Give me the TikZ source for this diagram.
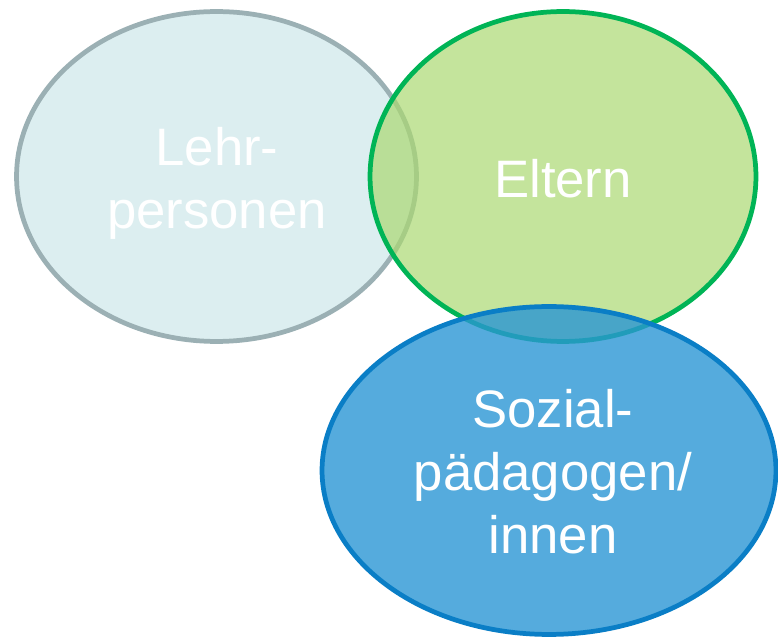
\documentclass[tikz,border=0pt]{standalone}
\usepackage{fontspec}
\setmainfont{Liberation Sans}
\usetikzlibrary{shapes.geometric}

\definecolor{lehrfill}{HTML}{DCEEF0}
\definecolor{lehrline}{HTML}{9BB0B4}
\definecolor{elternfill}{HTML}{ABD872}
\definecolor{elternline}{HTML}{00B456}
\definecolor{sozialfill}{HTML}{2A96D4}
\definecolor{sozialline}{HTML}{0A7EC6}

\tikzset{
  kreis/.style={ellipse, inner sep=0pt, line width=2.7pt},
  schrift/.style={text=white, align=center, font=\fontsize{30}{35.8}\selectfont}
}

\begin{document}
\begin{tikzpicture}[x=0.02cm, y=-0.02cm]
            \useasboundingbox (0,0) rectangle (778,638);
            \node[kreis, draw=lehrline, fill=lehrfill, minimum width=8cm, minimum height=6.6cm] at (216.5,176.5) (lehr) {};
            \node[kreis, draw=elternline, fill=elternfill, fill opacity=0.7, minimum width=7.72cm, minimum height=6.6cm] at (563,176.5) (eltern) {};
            \node[kreis, draw=sozialline, fill=sozialfill, fill opacity=0.8, minimum width=9.08cm, minimum height=6.56cm] at (549,470.5) (sozial) {};
            \node[schrift] at (217,183) (lehrtext) {Lehr-\\personen};
            \node[schrift] at (563,179) (elterntext) {Eltern};
            \node[schrift] at (553,472) (sozialtext) {Sozial-\\pädagogen/\\innen};
        \end{tikzpicture}
\end{document}
